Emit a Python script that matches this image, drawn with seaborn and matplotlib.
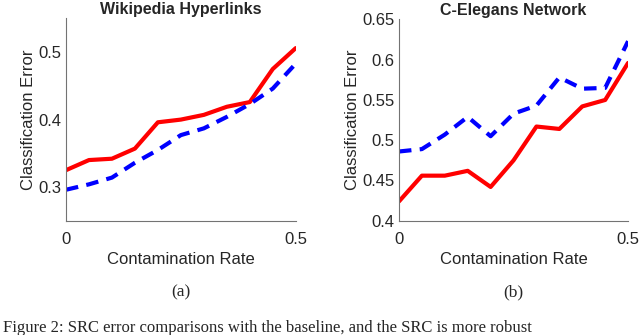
import numpy as np
import pandas as pd
import matplotlib
matplotlib.use("Agg")
import matplotlib.pyplot as plt
import seaborn as sns

# ----------------------------- data -----------------------------
rates = [0, 0.05, 0.1, 0.15, 0.2, 0.25, 0.3, 0.35, 0.4, 0.45, 0.5]

wiki_red = [0.325, 0.340, 0.342, 0.357, 0.396, 0.400, 0.407, 0.419, 0.426, 0.475, 0.506]
wiki_blue = [0.296, 0.304, 0.314, 0.336, 0.355, 0.377, 0.387, 0.404, 0.423, 0.446, 0.483]

eleg_red = [0.424, 0.456, 0.456, 0.462, 0.442, 0.475, 0.517, 0.514, 0.542, 0.550, 0.596]
eleg_blue = [0.486, 0.489, 0.507, 0.529, 0.505, 0.533, 0.543, 0.578, 0.564, 0.565, 0.623]

titles = ["Wikipedia Hyperlinks", "C-Elegans Network"]
panel_tags = ["(a)", "(b)"]
x_ticks = [0, 0.5]
x_ticklabels = ["0", "0.5"]
wiki_yticks = [0.3, 0.4, 0.5]
wiki_yticklabels = ["0.3", "0.4", "0.5"]
eleg_yticks = [0.4, 0.45, 0.5, 0.55, 0.6, 0.65]
eleg_yticklabels = ["0.4", "0.45", "0.5", "0.55", "0.6", "0.65"]
ylims = [(0.25, 0.55), (0.4, 0.65)]

caption = "Figure 2: SRC error comparisons with the baseline, and the SRC is more robust"

# ----------------------------- style -----------------------------
sns.set_style("white")
plt.rcParams['font.family'] = ['Liberation Sans', 'DejaVu Sans']

text_gray = (0.15, 0.15, 0.15)
spine_gray = (0.45, 0.45, 0.45)

fig = plt.figure(figsize=(6.4, 3.35), dpi=100)
ax1 = fig.add_axes([0.1031, 0.341, 0.359, 0.604])
ax2 = fig.add_axes([0.6234, 0.341, 0.358, 0.601])

panels = [
    (ax1, wiki_red, wiki_blue, wiki_yticks, wiki_yticklabels),
    (ax2, eleg_red, eleg_blue, eleg_yticks, eleg_yticklabels),
]

for i, (ax, red, blue, yt, ytl) in enumerate(panels):
    df = pd.DataFrame({"rate": rates, "red": red, "blue": blue})
    sns.lineplot(data=df, x="rate", y="red", ax=ax, color=(1, 0, 0), lw=3.0)
    sns.lineplot(data=df, x="rate", y="blue", ax=ax, color=(0, 0, 1), lw=3.0,
                 linestyle=(0, (3.0, 2.0)))

    ax.set_xlim(0, 0.5)
    ax.set_ylim(*ylims[i])
    ax.set_xticks(x_ticks)
    ax.set_xticklabels(x_ticklabels)
    ax.set_yticks(yt)
    ax.set_yticklabels(ytl)
    ax.tick_params(direction="in", length=3, width=0.8, color=spine_gray,
                   labelsize=12, labelcolor=text_gray)
    ax.tick_params(axis="x", pad=8)
    ax.tick_params(axis="y", pad=3)
    for s in ["top", "right"]:
        ax.spines[s].set_visible(False)
    for s in ["left", "bottom"]:
        ax.spines[s].set_color(spine_gray)
        ax.spines[s].set_linewidth(0.8)

    ax.set_xlabel("Contamination Rate", fontsize=12, color=text_gray, labelpad=4)
    ax.set_ylabel("Classification Error", fontsize=12, color=text_gray, labelpad=2)
    ax.set_title(titles[i], fontsize=11.5, fontweight="bold", pad=3)

    # panel tag below each plot
    cx = ax.get_position().x0 + ax.get_position().width / 2
    fig.text(cx, 1 - 292 / 335, panel_tags[i], ha="center", va="center",
             fontsize=12.5, family=["Liberation Serif", "DejaVu Serif"])

# figure caption along the bottom edge
fig.text(0.005, 1 - 320 / 335, caption, ha="left", va="top",
         fontsize=12, family=["Liberation Serif", "DejaVu Serif"])

fig.savefig("out.png", dpi=100)
